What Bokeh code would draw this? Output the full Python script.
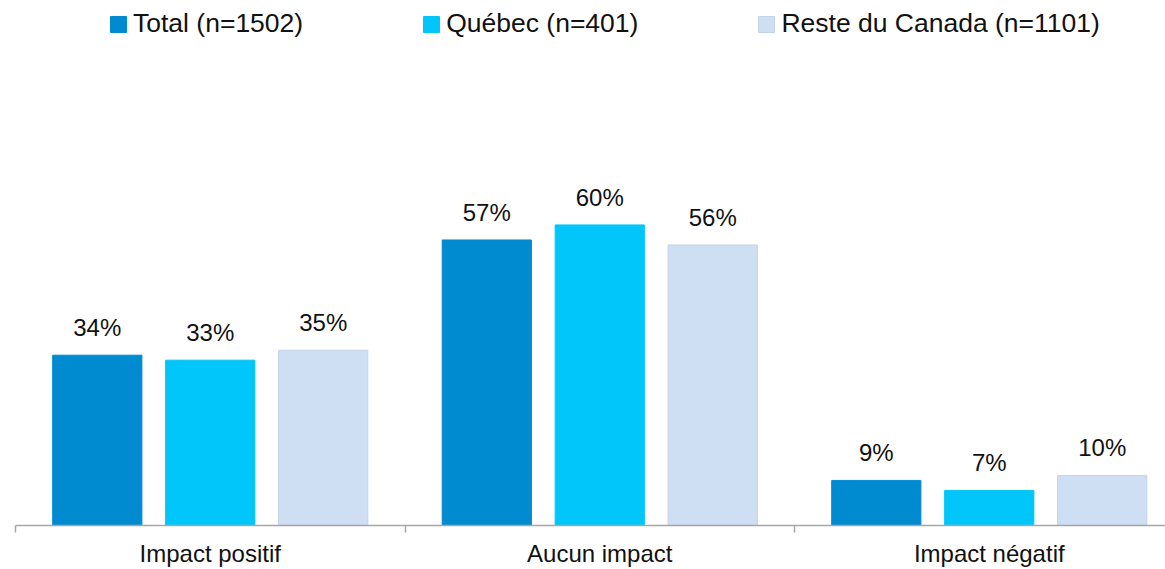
from bokeh.plotting import figure
from bokeh.models import ColumnDataSource, Range1d, FixedTicker, Legend, LegendItem, LabelSet
from bokeh.core.properties import value
from bokeh.embed import file_html
from bokeh.resources import INLINE

categories = ["Impact positif", "Aucun impact", "Impact négatif"]
series_names = ["Total (n=1502)", "Québec (n=401)", "Reste du Canada (n=1101)"]
total = [34, 57, 9]
quebec = [33, 60, 7]
reste = [35, 56, 10]
colors = ["#008BD1", "#00C6F9", "#CFDFF3"]
edges = ["#008BD1", "#00C6F9", "#C4D3E6"]

FONT = "Liberation Sans"

p = figure(width=1165, height=569, output_backend="svg", toolbar_location=None,
           x_range=Range1d(0, 2.9525), y_range=Range1d(0, 104.8),
           y_axis_location=None, min_border_left=15, min_border_right=0,
           min_border_top=0, min_border_bottom=30)
p.outline_line_color = None
p.xgrid.visible = False
p.ygrid.visible = False
p.background_fill_color = "white"
p.border_fill_color = "white"

offsets = [-0.29, 0.0, 0.29]
bar_w = 0.229
items = []
for vals, name, col, edge, off in zip([total, quebec, reste], series_names, colors, edges, offsets):
    xs = [i + 0.5 + off for i in range(len(categories))]
    src = ColumnDataSource(dict(x=xs, top=vals, lab=[f"{v}%" for v in vals]))
    r = p.vbar(x="x", top="top", width=bar_w, bottom=0, source=src,
               fill_color=col, line_color=edge, line_width=1)
    items.append(LegendItem(label=name, renderers=[r]))
    labels = LabelSet(x="x", y="top", text="lab", source=src, text_align="center",
                      text_baseline="alphabetic", y_offset=19, text_font=value(FONT),
                      text_font_size="24px", text_color="#111111")
    p.add_layout(labels)

ax = p.xaxis[0]
ax.ticker = FixedTicker(ticks=[i + 0.5 for i in range(len(categories))],
                        minor_ticks=list(range(len(categories) + 1)))
ax.major_label_overrides = {i + 0.5: c for i, c in enumerate(categories)}
ax.major_tick_line_color = None
ax.major_tick_out = 0
ax.major_tick_in = 0
ax.minor_tick_out = 7
ax.minor_tick_in = 0
ax.minor_tick_line_color = "#A6A6A6"
ax.minor_tick_line_width = 1.5
ax.axis_line_color = "#A6A6A6"
ax.axis_line_width = 1.5
ax.major_label_standoff = 7
ax.major_label_text_font = FONT
ax.major_label_text_font_size = "24px"
ax.major_label_text_color = "#111111"

legend = Legend(items=items, orientation="horizontal", location=(93, 486),
                padding=0, margin=0, spacing=118, label_standoff=5,
                glyph_width=20, glyph_height=20,
                label_text_font=FONT, label_text_font_size="26.5px",
                label_text_color="#111111", border_line_color=None,
                background_fill_alpha=0)
p.add_layout(legend)

open("out.html", "w").write(file_html(p, INLINE))
